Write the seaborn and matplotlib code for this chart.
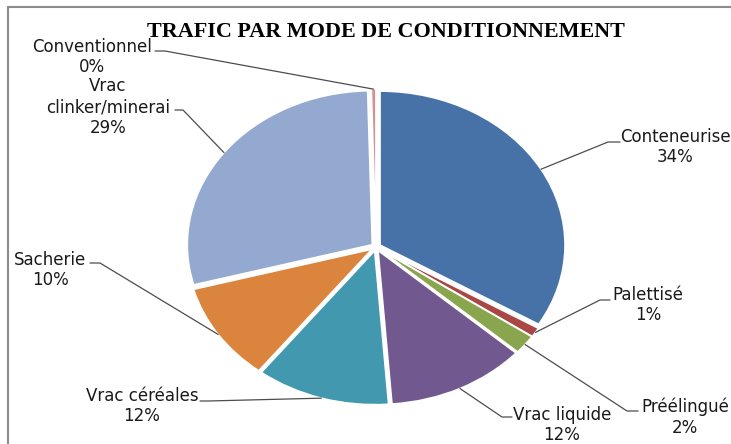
import numpy as np
import matplotlib
matplotlib.use("Agg")
import matplotlib.pyplot as plt
from matplotlib.lines import Line2D
import seaborn as sns

# ── Data ──────────────────────────────────────────────────────────────────────
LABELS = ["Conteneurise", "Palettisé", "Préélingué", "Vrac liquide",
          "Vrac céréales", "Sacherie", "Vrac\nclinker/minerai", "Conventionnel"]
VALUES = [33.6, 1.0, 2.0, 12.2, 11.7, 10.3, 28.8, 0.4]
COLORS = ["#4672A8", "#AA4643", "#89A54E", "#71588F",
          "#4198AF", "#DB843D", "#93A9CF", "#D19392"]
TITLE = "TRAFIC PAR MODE DE CONDITIONNEMENT"

# ── Layout (pixels, top-left origin) ─────────────────────────────────────────
W, H = 731, 444
CX, CY, RX, RY = 376, 247, 185, 154
# text centre, elbow of leader, end of short horizontal next to text
LAYOUT = [
    ((675, 147), (608, 142), (620, 142)),
    ((648, 305), (600, 300), (610, 300)),
    ((685, 417), (627, 411), (638, 411)),
    ((562, 425), (502, 417), (512, 417)),
    ((142, 406), (208, 401), (200, 401)),
    ((50, 270), (100, 263), (90, 263)),
    ((108, 107), (183, 110), (175, 110)),
    ((92, 57), (165, 51), (155, 51)),
]


def to_data(px, py):
    return (px - CX) / RX, (CY - py) / RY


sns.set_theme(style="white")
plt.rcParams["font.family"] = ["DejaVu Sans"]

fig = plt.figure(figsize=(W / 100, H / 100), dpi=100)
ax = fig.add_axes([0, 0, 1, 1])

wedges, _ = ax.pie(
    VALUES, colors=COLORS, startangle=90, counterclock=False,
    explode=[0.025] * len(VALUES),
    wedgeprops=dict(edgecolor="white", linewidth=1.2),
)
ax.set_aspect("auto")
ax.set_xlim(to_data(0, 0)[0], to_data(W, 0)[0])
ax.set_ylim(to_data(0, H)[1], to_data(0, 0)[1])
ax.axis("off")

total = sum(VALUES)
for w, lab, val, (tpos, elbow, tend) in zip(wedges, LABELS, VALUES, LAYOUT):
    theta = np.deg2rad((w.theta1 + w.theta2) / 2)
    rim = (w.center[0] + w.r * np.cos(theta), w.center[1] + w.r * np.sin(theta))
    e = to_data(*elbow)
    t = to_data(*tend)
    ax.plot([rim[0], e[0], t[0]], [rim[1], e[1], t[1]],
            color="#4d4d4d", lw=0.9, clip_on=False)
    tx, ty = to_data(*tpos)
    ax.text(tx, ty, f"{lab}\n{val / total * 100:.0f}%", ha="center", va="center",
            fontsize=12, color="#1a1a1a", linespacing=1.2)

fig.text(386 / W, 1 - 32 / H, TITLE, ha="center", va="center",
         fontsize=15.9, fontweight="bold", family="Liberation Serif", color="black")

# outer chart border (only top and left visible in the crop)
fig.add_artist(Line2D([8 / W, 1.01], [1 - 7 / H, 1 - 7 / H],
                      transform=fig.transFigure, color="#8c8c8c", lw=1.5))
fig.add_artist(Line2D([8 / W, 8 / W], [-0.01, 1 - 7 / H],
                      transform=fig.transFigure, color="#8c8c8c", lw=1.5))

fig.savefig("out.png", dpi=100, facecolor="white")
